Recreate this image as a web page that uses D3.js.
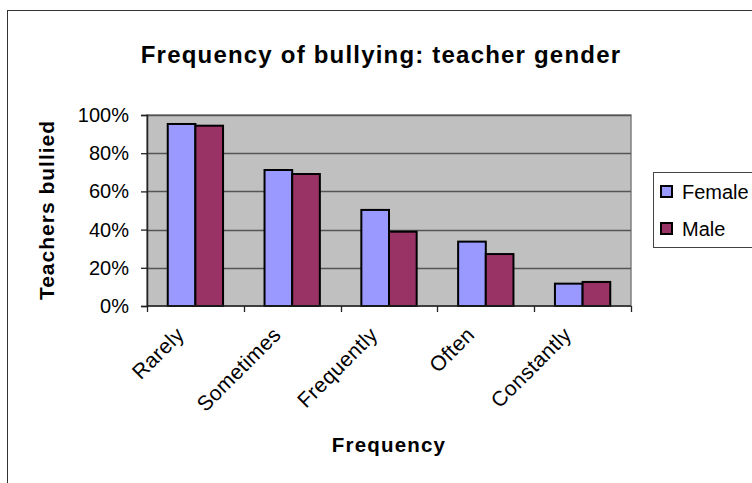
<!DOCTYPE html>
<html>
<head>
<meta charset="utf-8">
<script src="https://cdn.jsdelivr.net/npm/d3@7"></script>
<style>
  body { margin: 0; background: #fff; }
  text { font-family: "Liberation Sans", Arial, sans-serif; }
</style>
</head>
<body>
<div id="chart"></div>
<script>
// data
var categories = ["Rarely", "Sometimes", "Frequently", "Often", "Constantly"];
var seriesNames = ["Female", "Male"];
var female = [95.3, 71.2, 50.3, 33.7, 11.7];
var male = [94.4, 69.1, 38.9, 27.2, 12.6];
var yTicks = [0, 20, 40, 60, 80, 100];

var colors = { Female: "#9999ff", Male: "#993366" };

var svgWidth = 752, svgHeight = 483;
var plot = { left: 147, right: 631, top: 115, bottom: 306 };

var svg = d3.select("#chart").append("svg")
    .attr("width", svgWidth)
    .attr("height", svgHeight);

// outer chart border (right / bottom fall outside the picture)
svg.append("rect")
    .attr("x", 7.5).attr("y", 10.5)
    .attr("width", 800).attr("height", 600)
    .attr("fill", "#fff")
    .attr("stroke", "#333").attr("stroke-width", 1);

// scales
var x0 = d3.scaleBand()
    .domain(categories)
    .range([plot.left, plot.right])
    .padding(0);

var x1 = d3.scaleBand()
    .domain(seriesNames)
    .range([0, x0.bandwidth()])
    .paddingInner(0)
    .paddingOuter(0.75);

var y = d3.scaleLinear()
    .domain([0, 100])
    .range([plot.bottom, plot.top]);

// plot background
svg.append("rect")
    .attr("x", plot.left).attr("y", plot.top)
    .attr("width", plot.right - plot.left)
    .attr("height", plot.bottom - plot.top)
    .attr("fill", "#c0c0c0")
    .attr("stroke", "#808080").attr("stroke-width", 1.5);

// gridlines
svg.append("g")
    .selectAll("line")
    .data(yTicks.filter(d => d > 0))
    .enter().append("line")
    .attr("x1", plot.left).attr("x2", plot.right)
    .attr("y1", d => Math.round(y(d)) + 0.5)
    .attr("y2", d => Math.round(y(d)) + 0.5)
    .attr("stroke", "#555").attr("stroke-width", 1.3);

// bars
var rows = categories.map(function(c, i) {
    return { cat: c, vals: [{ s: "Female", v: female[i] }, { s: "Male", v: male[i] }] };
});

var groups = svg.append("g")
    .selectAll("g")
    .data(rows)
    .enter().append("g")
    .attr("transform", d => `translate(${x0(d.cat)},0)`);

groups.selectAll("rect")
    .data(d => d.vals)
    .enter().append("rect")
    .attr("x", d => x1(d.s))
    .attr("y", d => y(d.v))
    .attr("width", x1.bandwidth())
    .attr("height", d => y(0) - y(d.v))
    .attr("fill", d => colors[d.s])
    .attr("stroke", "#000")
    .attr("stroke-width", 2);

// y axis
var yAxis = d3.axisLeft(y)
    .tickValues(yTicks)
    .tickFormat(d => d + "%")
    .tickSizeOuter(0)
    .tickSize(6)
    .tickPadding(12);

var yg = svg.append("g")
    .attr("transform", `translate(${plot.left},0)`)
    .call(yAxis);
yg.select(".domain").attr("stroke", "#222").attr("stroke-width", 1.5);
yg.selectAll(".tick line").attr("stroke", "#222").attr("stroke-width", 1.3);
yg.selectAll(".tick text")
    .attr("font-size", 20)
    .attr("fill", "#000")
    .attr("font-family", "Liberation Sans, Arial, sans-serif");

// x axis: ticks at category boundaries
var xg = svg.append("g").attr("transform", `translate(0,${plot.bottom})`);
xg.append("line")
    .attr("x1", plot.left).attr("x2", plot.right)
    .attr("y1", 0).attr("y2", 0)
    .attr("stroke", "#222").attr("stroke-width", 1.5);
var bounds = categories.map(c => x0(c)).concat([plot.right]);
xg.selectAll("line.tk")
    .data(bounds)
    .enter().append("line")
    .attr("class", "tk")
    .attr("x1", d => Math.round(d) + 0.5).attr("x2", d => Math.round(d) + 0.5)
    .attr("y1", 0).attr("y2", 6)
    .attr("stroke", "#222").attr("stroke-width", 1.3);

xg.selectAll("text")
    .data(categories)
    .enter().append("text")
    .attr("transform", d => `translate(${x0(d) + x0.bandwidth() / 2 - 10},${30}) rotate(-45)`)
    .attr("text-anchor", "end")
    .attr("font-size", 21)
    .attr("letter-spacing", 0.4)
    .attr("fill", "#000")
    .text(d => d);

// title
svg.append("text")
    .attr("x", 381).attr("y", 63)
    .attr("text-anchor", "middle")
    .attr("font-size", 24)
    .attr("font-weight", "bold")
    .attr("letter-spacing", 1.2)
    .text("Frequency of bullying: teacher gender");

// axis titles
svg.append("text")
    .attr("x", 389).attr("y", 452)
    .attr("text-anchor", "middle")
    .attr("font-size", 20.5)
    .attr("font-weight", "bold")
    .attr("letter-spacing", 1.2)
    .text("Frequency");

svg.append("text")
    .attr("transform", "translate(54,210) rotate(-90)")
    .attr("text-anchor", "middle")
    .attr("font-size", 21)
    .attr("font-weight", "bold")
    .attr("letter-spacing", 1)
    .text("Teachers bullied");

// legend
var legend = svg.append("g");
legend.append("rect")
    .attr("x", 653.5).attr("y", 172.5)
    .attr("width", 120).attr("height", 75)
    .attr("fill", "#fff")
    .attr("stroke", "#444").attr("stroke-width", 1);

var items = legend.selectAll("g.item")
    .data(seriesNames)
    .enter().append("g")
    .attr("class", "item")
    .attr("transform", (d, i) => `translate(661,${186 + i * 37})`);
items.append("rect")
    .attr("width", 11).attr("height", 11)
    .attr("fill", d => colors[d])
    .attr("stroke", "#000").attr("stroke-width", 2);
items.append("text")
    .attr("x", 21).attr("y", 13)
    .attr("font-size", 20)
    .text(d => d);
</script>
</body>
</html>
